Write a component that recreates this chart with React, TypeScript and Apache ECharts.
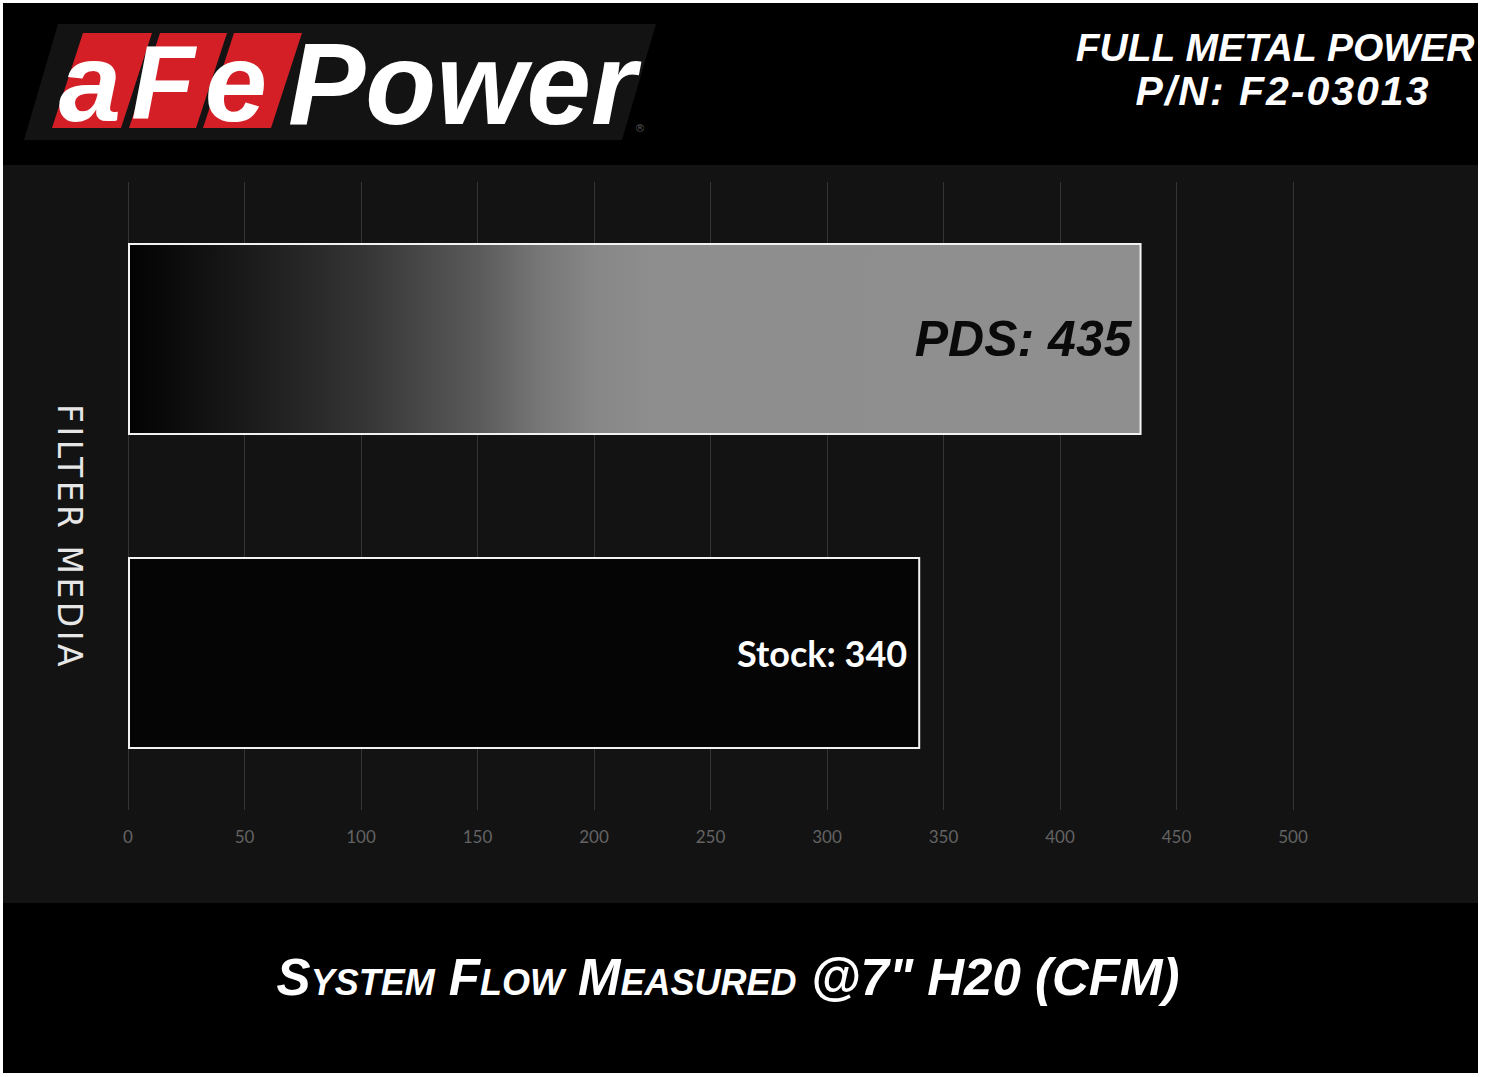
import React, { useEffect, useRef } from "react";
import * as echarts from "echarts";

const categories = ["PDS", "Stock"];
const flowValues = [435, 340];
const axisMin = 0;
const axisMax = 500;
const axisStep = 50;

const topTitle = "FULL METAL POWER";
const partNumber = "P/N: F2-03013";
const xAxisTitle = "System Flow Measured @7\" H20 (CFM)";
const yAxisTitle = "FILTER MEDIA";

export default function App() {
  const ref = useRef<HTMLDivElement>(null);

  useEffect(() => {
    if (!ref.current) return;
    const chart = echarts.init(ref.current, null, { renderer: "svg" });

    const logoFont = "Liberation Sans";
    const option: any = {
      animation: false,
      backgroundColor: "#ffffff",
      grid: { left: 128, right: 194, top: 182, height: 628, containLabel: false },
      xAxis: {
        type: "value",
        min: axisMin,
        max: axisMax,
        interval: axisStep,
        axisLine: { show: false },
        axisTick: { show: false },
        axisLabel: {
          color: "#636363",
          fontFamily: "Lato",
          fontSize: 17,
          margin: 18,
        },
        splitLine: { show: true, lineStyle: { color: "#353535", width: 1 } },
      },
      yAxis: {
        type: "category",
        data: categories,
        inverse: true,
        axisLine: { show: false },
        axisTick: { show: false },
        axisLabel: { show: false },
        splitLine: { show: false },
      },
      series: [
        {
          type: "bar",
          barWidth: 192,
          data: [
            {
              value: flowValues[0],
              itemStyle: {
                color: new echarts.graphic.LinearGradient(0, 0, 1, 0, [
                  { offset: 0, color: "#020202" },
                  { offset: 0.115, color: "#1a1a1a" },
                  { offset: 0.23, color: "#343434" },
                  { offset: 0.345, color: "#5a5a5a" },
                  { offset: 0.405, color: "#767676" },
                  { offset: 0.46, color: "#878787" },
                  { offset: 0.52, color: "#8e8e8e" },
                  { offset: 1, color: "#8f8f8f" },
                ]),
                borderColor: "#f2f2f2",
                borderWidth: 2,
              },
              label: {
                show: true,
                position: "insideRight",
                distance: 10,
                formatter: "{b}: {c}",
                color: "#0a0a0a",
                fontFamily: logoFont,
                fontStyle: "italic",
                fontWeight: 900,
                fontSize: 50,
              },
            },
            {
              value: flowValues[1],
              itemStyle: {
                color: "#050505",
                borderColor: "#f2f2f2",
                borderWidth: 2,
              },
              label: {
                show: true,
                position: "insideRight",
                distance: 13,
                formatter: "{b}: {c}",
                color: "#ffffff",
                fontFamily: "Lato",
                fontWeight: "bold",
                fontSize: 36,
              },
            },
          ],
        },
      ],
      graphic: [
        { type: "rect", z: -20, shape: { x: 3, y: 3, width: 1475, height: 1070 }, style: { fill: "#000000" } },
        { type: "rect", z: -19, shape: { x: 3, y: 165, width: 1475, height: 738 }, style: { fill: "#131313" } },
        {
          type: "polygon",
          z: -18,
          shape: { points: [[58, 24], [656, 24], [622, 140], [24, 140]] },
          style: { fill: "#131313" },
        },
        { type: "polygon", shape: { points: [[83, 33], [152, 33], [121, 128], [52, 128]] }, style: { fill: "#d41f26" } },
        { type: "polygon", shape: { points: [[160, 33], [227, 33], [196, 128], [129, 128]] }, style: { fill: "#d41f26" } },
        { type: "polygon", shape: { points: [[234, 33], [302, 33], [271, 128], [203, 128]] }, style: { fill: "#d41f26" } },
        {
          type: "text",
          x: 90, y: 82,
          style: { text: "a", fill: "#ffffff", fontFamily: logoFont, fontStyle: "italic", fontWeight: 900, fontSize: 112, textAlign: "center", textVerticalAlign: "middle" },
        },
        {
          type: "text",
          x: 163, y: 82,
          style: { text: "F", fill: "#ffffff", fontFamily: logoFont, fontStyle: "italic", fontWeight: 900, fontSize: 104, textAlign: "center", textVerticalAlign: "middle" },
        },
        {
          type: "text",
          x: 236, y: 82,
          style: { text: "e", fill: "#ffffff", fontFamily: logoFont, fontStyle: "italic", fontWeight: 900, fontSize: 112, textAlign: "center", textVerticalAlign: "middle" },
        },
        {
          type: "text",
          x: 288, y: 84,
          style: { text: "Power", fill: "#ffffff", fontFamily: logoFont, fontStyle: "italic", fontWeight: 900, fontSize: 116, textAlign: "left", textVerticalAlign: "middle" },
        },
        {
          type: "text",
          x: 640, y: 128,
          style: { text: "®", fill: "#555555", fontFamily: "DejaVu Sans", fontSize: 11, textAlign: "center", textVerticalAlign: "middle" },
        },
        {
          type: "text",
          x: 1275, y: 47,
          style: { text: topTitle, fill: "#ffffff", fontFamily: logoFont, fontStyle: "italic", fontWeight: "bold", fontSize: 39, textAlign: "center", textVerticalAlign: "middle" },
        },
        {
          type: "text",
          x: 1283, y: 91,
          style: { text: partNumber, fill: "#ffffff", fontFamily: logoFont + ";letter-spacing:2px", fontStyle: "italic", fontWeight: "bold", fontSize: 41, textAlign: "center", textVerticalAlign: "middle" },
        },
        {
          type: "text",
          x: 728, y: 977,
          style: {
            text: xAxisTitle,
            fill: "#ffffff",
            fontFamily: "Liberation Sans;font-variant:small-caps",
            fontStyle: "italic",
            fontWeight: "bold",
            fontSize: 51,
            textAlign: "center",
            textVerticalAlign: "middle",
          },
        },
        {
          type: "text",
          x: 69, y: 537,
          rotation: -Math.PI / 2,
          style: { text: yAxisTitle, fill: "#e6e6e6", fontFamily: "DejaVu Sans;letter-spacing:3.5px", fontSize: 33, textAlign: "center", textVerticalAlign: "middle" },
        },
      ],
    };

    chart.setOption(option);
    return () => chart.dispose();
  }, []);

  return (
    <div
      ref={ref}
      style={{ position: "absolute", left: 0, top: 0, width: 1487, height: 1077 }}
    />
  );
}
